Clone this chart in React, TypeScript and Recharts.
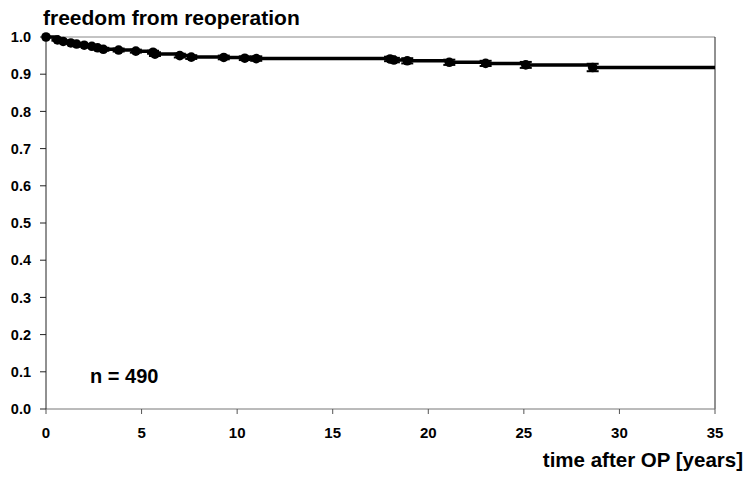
import { ErrorBar, Line, LineChart, ReferenceLine, XAxis, YAxis } from "recharts"

// Kaplan-Meier estimate
const years = [0, 0.6, 0.9, 1.3, 1.6, 2.0, 2.4, 2.7, 3.0, 3.8, 4.7, 5.6, 5.7, 7.0, 7.6, 9.3, 10.4, 11.0, 18.0, 18.2, 18.9, 21.1, 23.0, 25.1, 28.6, 35]
const freedom = [1.0, 0.992, 0.988, 0.984, 0.981, 0.978, 0.975, 0.971, 0.967, 0.965, 0.962, 0.959, 0.954, 0.95, 0.946, 0.945, 0.943, 0.942, 0.941, 0.938, 0.936, 0.932, 0.929, 0.925, 0.918, 0.918]
const stdErr = [0, 0.002, 0.002, 0.002, 0.003, 0.003, 0.003, 0.003, 0.004, 0.004, 0.004, 0.004, 0.005, 0.005, 0.005, 0.005, 0.005, 0.006, 0.006, 0.006, 0.007, 0.007, 0.007, 0.008, 0.01, 0]

const xTicks = [0, 5, 10, 15, 20, 25, 30, 35]
const yTicks = [0, 0.1, 0.2, 0.3, 0.4, 0.5, 0.6, 0.7, 0.8, 0.9, 1.0]

const font = "'Liberation Sans', Arial, Helvetica, sans-serif"

const data = years.map((t, i) => ({ t, s: freedom[i], err: stdErr[i] }))
const lastIdx = data.length - 1

const renderDot = (props: any) => {
  const { cx, cy, index } = props
  if (index === lastIdx) return <g key={`d-${index}`} />
  return <circle key={`d-${index}`} cx={cx} cy={cy} r={4.8} fill="#000" />
}

export default function App() {
  return (
    <div style={{ position: "absolute", left: 0, top: 0, width: 745, height: 478, background: "#fff" }}>
      <LineChart width={745} height={478} data={data} margin={{ top: 37, right: 30, left: 0, bottom: 0 }}>
        <XAxis
          dataKey="t"
          type="number"
          domain={[0, 35]}
          ticks={xTicks}
          height={69}
          axisLine={{ stroke: "#777" }}
          tickLine={{ stroke: "#555" }}
          tickSize={5}
          tickMargin={13}
          tick={{ fontSize: 15, fontWeight: "bold", fill: "#000", fontFamily: font }}
        />
        <YAxis
          type="number"
          domain={[0, 1]}
          ticks={yTicks}
          width={46}
          axisLine={{ stroke: "#222" }}
          tickLine={{ stroke: "#222" }}
          tickSize={6}
          tickMargin={9}
          tickFormatter={(v: number) => v.toFixed(1)}
          tick={{ fontSize: 14.5, fontWeight: "bold", fill: "#000", fontFamily: font }}
        />
        <ReferenceLine y={1} stroke="#888" strokeWidth={1} />
        <ReferenceLine x={35} stroke="#222" strokeWidth={1} />
        <Line
          type="stepAfter"
          dataKey="s"
          stroke="#000"
          strokeWidth={3.5}
          dot={renderDot}
          activeDot={false}
          isAnimationActive={false}
        >
          <ErrorBar dataKey="err" direction="y" width={6} strokeWidth={2} stroke="#000" />
        </Line>
      </LineChart>
      <svg width={745} height={478} style={{ position: "absolute", left: 0, top: 0, pointerEvents: "none" }}>
        <text x={43} y={25} fontSize={21} fontWeight="bold" fontFamily={font} fill="#000">
          freedom from reoperation
        </text>
        <text x={90} y={383} fontSize={20} fontWeight="bold" fontFamily={font} fill="#000">
          n = 490
        </text>
        <text x={743} y={467} textAnchor="end" fontSize={20.5} fontWeight="bold" fontFamily={font} fill="#000">
          time after OP [years]
        </text>
      </svg>
    </div>
  )
}
